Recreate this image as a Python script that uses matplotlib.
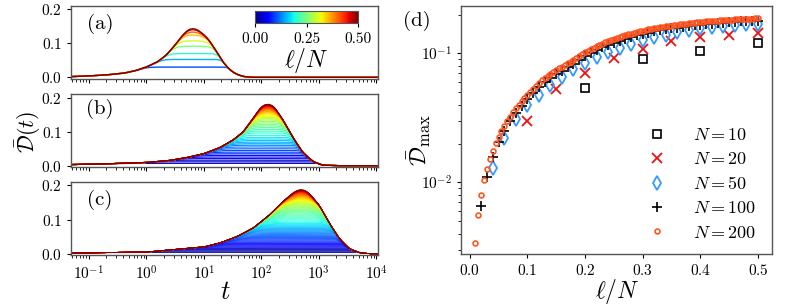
import numpy as np
import matplotlib
matplotlib.use('Agg')
import matplotlib.pyplot as plt
from matplotlib import cm, colors

plt.rcParams['font.family'] = 'serif'
plt.rcParams['font.serif'] = ['cmr10', 'DejaVu Serif']
plt.rcParams['mathtext.fontset'] = 'cm'
plt.rcParams['axes.formatter.use_mathtext'] = True
plt.rcParams['axes.edgecolor'] = '#555555'
plt.rcParams['axes.linewidth'] = 1.0

#%% data
# panel (d): peak value D_max vs l/N, l = 2 .. N/2
f10 = [0.2, 0.3, 0.4, 0.5]
d10 = [0.0536, 0.0903, 0.1040, 0.1196]

f20 = [0.10, 0.15, 0.20, 0.25, 0.30, 0.35, 0.40, 0.45, 0.50]
d20 = [0.0301, 0.0526, 0.0700, 0.0915, 0.1074, 0.1245, 0.1330, 0.1400, 0.1430]

f50 = np.arange(2, 26) / 50
d50 = [0.0129, 0.0219, 0.0308, 0.0396, 0.0478, 0.0569, 0.0655, 0.0755, 0.0840, 0.0935,
       0.1018, 0.1105, 0.1190, 0.1280, 0.1330, 0.1400, 0.1470, 0.1516, 0.1560, 0.1605,
       0.1636, 0.1655, 0.1675, 0.1680]

f100 = np.arange(2, 51) / 100
d100 = [0.0066, 0.0111, 0.0158, 0.0205, 0.0251, 0.0298, 0.0346, 0.0394, 0.0443,
        0.0493, 0.0545, 0.0595, 0.0640, 0.0686, 0.0734, 0.0780, 0.0828, 0.0888, 0.0955,
        0.1010, 0.1062, 0.1113, 0.1162, 0.1208, 0.1253, 0.1296, 0.1337, 0.1376, 0.1412,
        0.1446, 0.1478, 0.1508, 0.1536, 0.1562, 0.1586, 0.1609, 0.1630, 0.1650, 0.1668,
        0.1685, 0.1701, 0.1716, 0.1730, 0.1743, 0.1755, 0.1766, 0.1776, 0.1785, 0.1793]

f200 = np.arange(2, 101) / 200
d200 = [0.0034, 0.0056, 0.0080, 0.0104, 0.0128, 0.0152, 0.0176, 0.0201, 0.0225, 0.0250,
        0.0275, 0.0300, 0.0324, 0.0349, 0.0375, 0.0401, 0.0427, 0.0452, 0.0478,
        0.0505, 0.0532, 0.0561, 0.0590, 0.0617, 0.0643, 0.0667, 0.0690, 0.0714, 0.0738,
        0.0764, 0.0790, 0.0814, 0.0838, 0.0864, 0.0890, 0.0922, 0.0955, 0.0988, 0.1020,
        0.1049, 0.1078, 0.1107, 0.1135, 0.1163, 0.1190, 0.1218, 0.1245, 0.1268, 0.1290,
        0.1313, 0.1335, 0.1358, 0.1380, 0.1403, 0.1425, 0.1445, 0.1465, 0.1483, 0.1500,
        0.1516, 0.1532, 0.1547, 0.1562, 0.1576, 0.1590, 0.1603, 0.1616, 0.1628, 0.1640,
        0.1652, 0.1663, 0.1674, 0.1685, 0.1696, 0.1706, 0.1717, 0.1728, 0.1738, 0.1748,
        0.1757, 0.1766, 0.1774, 0.1782, 0.1790, 0.1797, 0.1804, 0.1810, 0.1816, 0.1822,
        0.1828, 0.1833, 0.1838, 0.1843, 0.1848, 0.1852, 0.1857, 0.1861, 0.1866, 0.1870]

# panels (a)-(c): upper curve (l = N/2), sampled at log10(t)
logt_a = [-1.31, -1.0, -0.7, -0.4, -0.2, 0.0, 0.2, 0.35, 0.5, 0.62, 0.72, 0.80, 0.88,
          0.98, 1.08, 1.16, 1.25, 1.33, 1.42, 1.50, 1.60, 1.70, 1.85, 4.1]
top_a = [0.002, 0.004, 0.007, 0.012, 0.019, 0.030, 0.046, 0.066, 0.095, 0.122, 0.139,
         0.144, 0.141, 0.129, 0.112, 0.092, 0.068, 0.046, 0.028, 0.016, 0.007, 0.002, 0.0, 0.0]

logt_b = [-1.31, -0.76, 0.0, 0.4, 0.69, 1.0, 1.27, 1.5, 1.68, 1.85, 1.97, 2.03, 2.10,
          2.16, 2.23, 2.37, 2.55, 2.72, 2.90, 3.07, 3.3, 4.1]
top_b = [0.003, 0.005, 0.009, 0.015, 0.023, 0.035, 0.052, 0.074, 0.098, 0.137, 0.167,
         0.177, 0.181, 0.180, 0.172, 0.137, 0.083, 0.039, 0.012, 0.001, 0.0, 0.0]

logt_c = [-1.31, 0.0, 1.0, 1.27, 1.56, 1.85, 2.14, 2.37, 2.55, 2.63, 2.70, 2.77, 2.84,
          3.01, 3.19, 3.36, 3.53, 3.71, 3.9, 4.1]
top_c = [0.002, 0.005, 0.020, 0.031, 0.049, 0.074, 0.113, 0.152, 0.178, 0.186, 0.188,
         0.185, 0.176, 0.142, 0.088, 0.044, 0.015, 0.003, 0.0, 0.0]

#%%
fig = plt.figure(figsize=(7.89, 3.08), dpi=100)
norm = colors.Normalize(0, 0.5)
cmap = cm.jet

panels = [
    ([0.090, 0.7435, 0.389, 0.238], logt_a, top_a, f20, d20, '(a)', 0.75, 1.0),
    ([0.090, 0.4568, 0.389, 0.238], logt_b, top_b, f100, d100, '(b)', 0.79, 0.8),
    ([0.090, 0.1705, 0.389, 0.2396], logt_c, top_c, f200, d200, '(c)', 0.75, 0.6),
]


def soft_min(env, level, p=8):
    return (env ** -p + level ** -p) ** (-1 / p)


lt = np.linspace(-1.35, 4.1, 600)
t = 10 ** lt
axs = []
for rect, lx, ly, fr, dm, lab, ylab, lw in panels:
    ax = fig.add_axes(rect)
    env = np.interp(lt, lx, ly)
    env = np.convolve(env, np.ones(9) / 9, mode='same')
    env[:4] = env[4]
    env = np.maximum(env, 1e-9)
    # peak heights from panel (d), scaled so the top one is the drawn upper curve
    peaks = np.array(dm) * env.max() / dm[-1]
    for k in range(len(fr)):
        if k == len(fr) - 1 or peaks[k] >= env.max() * 0.999:
            y = env
        else:
            lo, hi = peaks[k], 50.0
            for _ in range(60):
                mid = 0.5 * (lo + hi)
                if soft_min(env, mid).max() < peaks[k]:
                    lo = mid
                else:
                    hi = mid
            y = soft_min(env, lo)
        ax.plot(t, y, color=cmap(norm(fr[k])), lw=lw)
    ax.set_xscale('log')
    ax.set_xlim(10 ** -1.31, 10 ** 4.03)
    ax.set_ylim(-0.005, 0.211)
    ax.set_yticks([0.0, 0.1, 0.2])
    ax.tick_params(labelsize=11, direction='out', length=3)
    ax.tick_params(which='minor', length=2)
    ax.text(0.095, ylab, lab, transform=ax.transAxes, fontsize=15, ha='center', va='center')
    axs.append(ax)

axs[0].tick_params(labelbottom=False)
axs[1].tick_params(labelbottom=False)
axs[2].set_xticks([1e-1, 1, 1e1, 1e2, 1e3, 1e4])

cax = axs[0].inset_axes([0.6, 0.76, 0.335, 0.172])
cb = fig.colorbar(cm.ScalarMappable(norm=norm, cmap=cmap), cax=cax, orientation='horizontal')
cb.set_ticks([0, 0.25, 0.5])
cb.set_ticklabels(['0.00', '0.25', '0.50'])
cax.tick_params(labelsize=11, length=3)
cb.outline.set_linewidth(0.8)
fig.text(306 / 789, 1 - 67 / 308, r'$\ell/N$', fontsize=17, ha='center', va='baseline')

fig.text(28 / 789, 1 - 132 / 308, r'$\bar{\mathcal{D}}(t)$', rotation=90, fontsize=16,
         ha='center', va='center')
fig.text(225 / 789, 1 - 292 / 308, r'$t$', fontsize=19, ha='center', va='center')

#%% panel (d)
axd = fig.add_axes([0.5843, 0.1744, 0.3946, 0.807])
axd.plot(f10, d10, 's', mfc='none', mec='black', ms=6, mew=1.2, ls='none', label=r'$N=10$')
axd.plot(f20, d20, 'x', color='#ee1111', ms=7, mew=1.3, ls='none', label=r'$N=20$')
axd.plot(f50, d50, 'd', mfc='none', mec='#3399ff', ms=7, mew=1.3, ls='none', label=r'$N=50$')
axd.plot(f100, d100, '+', color='black', ms=7, mew=1.2, ls='none', label=r'$N=100$')
axd.plot(f200, d200, 'o', mfc='none', mec='#ff5522', ms=3.5, mew=1.2, ls='none', label=r'$N=200$')
axd.set_yscale('log')
axd.set_xlim(-0.0151, 0.525)
axd.set_ylim(0.00277, 0.234)
axd.set_xticks([0.0, 0.1, 0.2, 0.3, 0.4, 0.5])
axd.tick_params(labelsize=11, direction='out', length=3)
axd.tick_params(which='minor', length=2)
axd.legend(loc='lower right', frameon=False, fontsize=13, handletextpad=1.0,
           labelspacing=0.45, bbox_to_anchor=(1.0, -0.01))
fig.text(417 / 789, 1 - 21 / 308, '(d)', fontsize=15, ha='center', va='center')
fig.text(419 / 789, 1 - 140 / 308, r'$\bar{\mathcal{D}}_{\max}$', rotation=90, fontsize=17,
         ha='center', va='center')
fig.text(617 / 789, 1 - 291 / 308, r'$\ell/N$', fontsize=17, ha='center', va='center')

plt.savefig('out.png', dpi=100)
